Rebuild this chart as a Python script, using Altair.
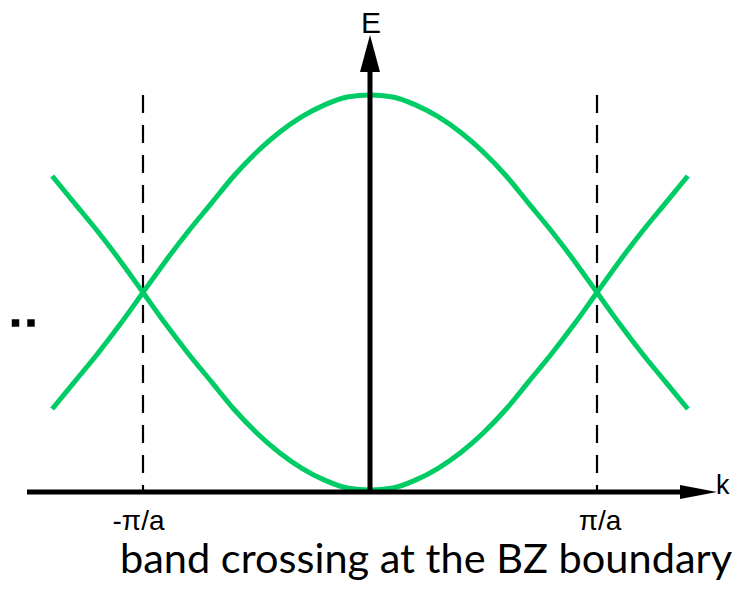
import altair as alt
import pandas as pd

# k in units of pi/a, E in arbitrary units
k_vals = [-1.4, -1.3, -1.2, -1.1, -1.0, -0.9, -0.8, -0.7, -0.6, -0.5, -0.4, -0.3, -0.2, -0.1, 0.0,
          0.1, 0.2, 0.3, 0.4, 0.5, 0.6, 0.7, 0.8, 0.9, 1.0, 1.1, 1.2, 1.3, 1.4]
upper_E = [0.41, 0.55, 0.69, 0.84, 1.00, 1.16, 1.31, 1.45, 1.59, 1.71, 1.81, 1.89, 1.95, 1.99, 2.00,
           1.99, 1.95, 1.89, 1.81, 1.71, 1.59, 1.45, 1.31, 1.16, 1.00, 0.84, 0.69, 0.55, 0.41]
lower_E = [1.59, 1.45, 1.31, 1.16, 1.00, 0.84, 0.69, 0.55, 0.41, 0.29, 0.19, 0.11, 0.05, 0.01, 0.00,
           0.01, 0.05, 0.11, 0.19, 0.29, 0.41, 0.55, 0.69, 0.84, 1.00, 1.16, 1.31, 1.45, 1.59]

bz_bounds = [-1.0, 1.0]
bz_labels = ["-π/a", "π/a"]

GREEN = "#00CC66"

xs = alt.Scale(domain=[-1.5947, 1.6079], nice=False, zero=False)
ys = alt.Scale(domain=[-0.4861, 2.4405], nice=False, zero=False)

bands = pd.DataFrame({
    "k": k_vals * 2,
    "E": upper_E + lower_E,
    "band": ["upper"] * len(k_vals) + ["lower"] * len(k_vals),
})

curves = alt.Chart(bands).mark_line(
    color=GREEN, strokeWidth=5, strokeCap="butt", interpolate="monotone"
).encode(
    x=alt.X("k:Q", scale=xs, axis=None),
    y=alt.Y("E:Q", scale=ys, axis=None),
    detail="band:N",
)

dash_df = pd.DataFrame({"k": bz_bounds, "E0": [0.0, 0.0], "E1": [2.0, 2.0]})
dashes = alt.Chart(dash_df).mark_rule(
    color="black", strokeWidth=2.2, strokeDash=[18, 12]
).encode(
    x=alt.X("k:Q", scale=xs, axis=None),
    y=alt.Y("E1:Q", scale=ys, axis=None),
    y2="E0:Q",
)

# axes lines
haxis = alt.Chart(pd.DataFrame({"k0": [-1.511], "k1": [1.41], "E": [-0.0101]})).mark_rule(
    color="black", strokeWidth=5
).encode(
    x=alt.X("k0:Q", scale=xs, axis=None), x2="k1:Q",
    y=alt.Y("E:Q", scale=ys, axis=None),
)
vaxis = alt.Chart(pd.DataFrame({"k": [0.0], "E0": [-0.0101], "E1": [2.18]})).mark_rule(
    color="black", strokeWidth=5
).encode(
    x=alt.X("k:Q", scale=xs, axis=None),
    y=alt.Y("E0:Q", scale=ys, axis=None), y2="E1:Q",
)

up_head = alt.Chart(pd.DataFrame({"k": [0.0], "E": [2.21]})).mark_point(
    shape="M0,-1L0.54,1L-0.54,1Z", filled=True, color="black", opacity=1, size=1369
).encode(x=alt.X("k:Q", scale=xs, axis=None), y=alt.Y("E:Q", scale=ys, axis=None))

right_head = alt.Chart(pd.DataFrame({"k": [1.4471], "E": [-0.0101]})).mark_point(
    shape="M1,0L-1,-0.38L-1,0.38Z", filled=True, color="black", opacity=1, size=1369
).encode(x=alt.X("k:Q", scale=xs, axis=None), y=alt.Y("E:Q", scale=ys, axis=None))

# labels
e_lab = alt.Chart(pd.DataFrame({"k": [0.0044], "E": [2.314], "t": ["E"]})).mark_text(
    font="Liberation Sans", fontSize=30, align="center", baseline="alphabetic", color="black"
).encode(x=alt.X("k:Q", scale=xs, axis=None), y=alt.Y("E:Q", scale=ys, axis=None), text="t:N")

k_lab = alt.Chart(pd.DataFrame({"k": [1.5242], "E": [-0.0203], "t": ["k"]})).mark_text(
    font="Liberation Sans", fontSize=27, align="left", baseline="alphabetic", color="black"
).encode(x=alt.X("k:Q", scale=xs, axis=None), y=alt.Y("E:Q", scale=ys, axis=None), text="t:N")

bz_df = pd.DataFrame({"k": [-1.0198, 1.0132], "E": [-0.2025, -0.2025], "t": bz_labels})
bz_lab = alt.Chart(bz_df).mark_text(
    font="Liberation Sans", fontSize=28, align="center", baseline="alphabetic", color="black"
).encode(x=alt.X("k:Q", scale=xs, axis=None), y=alt.Y("E:Q", scale=ys, axis=None), text="t:N")

caption = alt.Chart(pd.DataFrame({"k": [0.2467], "E": [-0.4203], "t": ["band crossing at the BZ boundary"]})).mark_text(
    font="Lato", fontSize=41.5, align="center", baseline="alphabetic", color="black"
).encode(x=alt.X("k:Q", scale=xs, axis=None), y=alt.Y("E:Q", scale=ys, axis=None), text="t:N")

dots = alt.Chart(pd.DataFrame({"k": [-1.5617, -1.4934], "E": [0.8456, 0.8456]})).mark_square(
    color="black", size=56, opacity=1
).encode(x=alt.X("k:Q", scale=xs, axis=None), y=alt.Y("E:Q", scale=ys, axis=None))

chart = alt.layer(
    dashes, curves, haxis, vaxis, up_head, right_head, e_lab, k_lab, bz_lab, caption, dots
).properties(
    width=727, height=578, autosize=alt.AutoSizeParams(type="none"), padding=0
).configure_view(stroke=None)

chart.save("out.html", embed_options={"renderer": "svg", "actions": False})
